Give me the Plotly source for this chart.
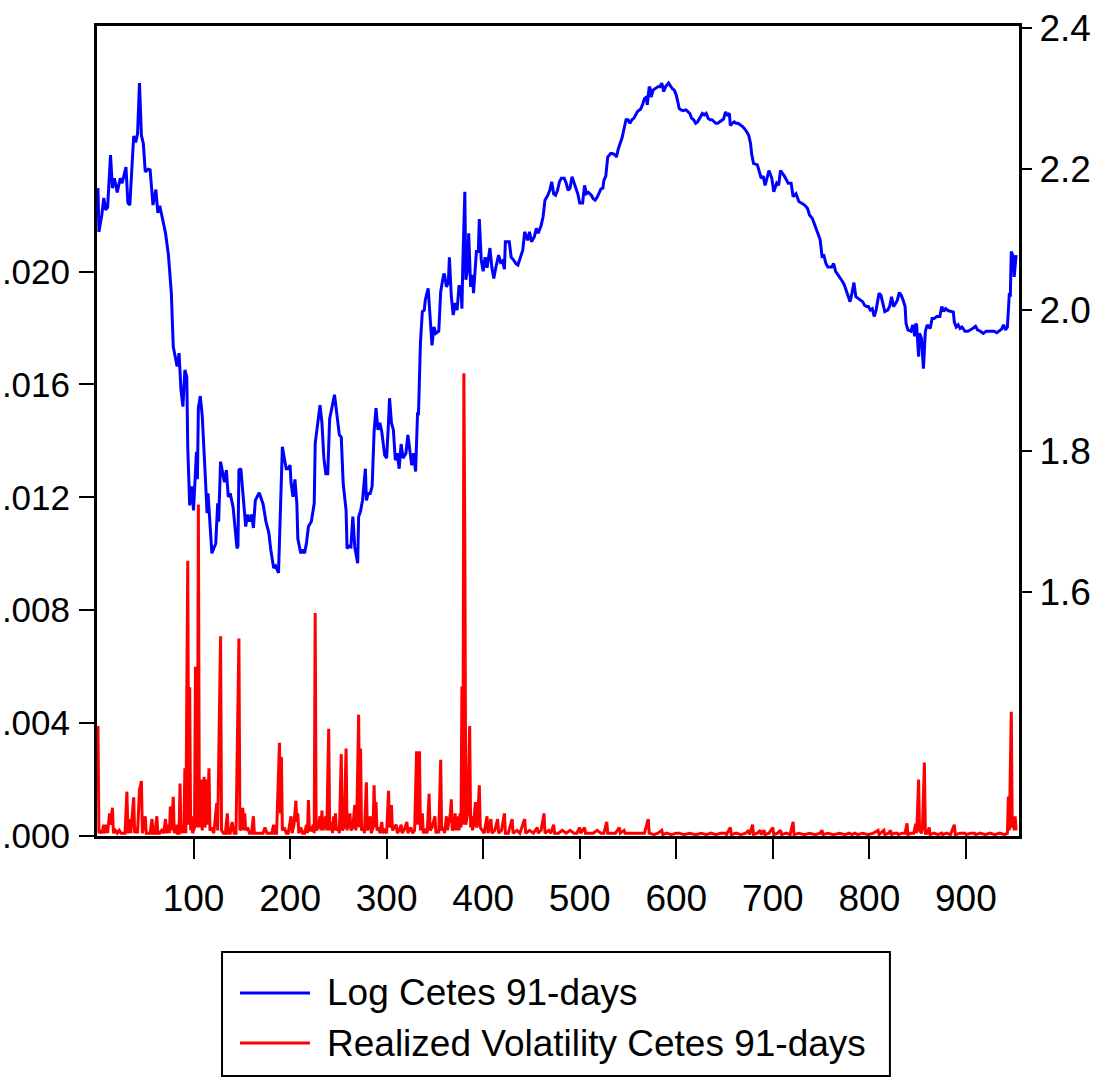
import plotly.graph_objects as go

# Log of the 91-day Cetes rate (observation number, value) -- right axis
log_cetes = [
    (1, 2.173), (2, 2.111), (5, 2.135), (7, 2.159), (9, 2.142), (11, 2.146), (14, 2.220),
    (16, 2.173), (18, 2.187), (21, 2.167), (24, 2.187), (26, 2.180), (28, 2.191), (30, 2.203),
    (32, 2.152), (34, 2.149), (38, 2.247), (40, 2.238), (42, 2.250), (44, 2.322), (46, 2.248),
    (48, 2.236), (50, 2.196), (53, 2.200), (55, 2.199), (58, 2.149), (61, 2.171), (63, 2.138),
    (65, 2.148), (68, 2.130), (71, 2.109), (74, 2.078), (77, 2.024), (79, 1.948), (83, 1.920),
    (85, 1.939), (87, 1.887), (89, 1.863), (91, 1.915), (93, 1.905), (94, 1.806), (96, 1.723),
    (98, 1.750), (100, 1.716), (103, 1.799), (104, 1.760), (105, 1.861), (107, 1.878),
    (109, 1.850), (112, 1.769), (114, 1.712), (115, 1.740), (117, 1.693), (119, 1.655),
    (123, 1.669), (125, 1.726), (126, 1.700), (128, 1.785), (132, 1.756), (134, 1.773),
    (136, 1.735), (138, 1.740), (141, 1.720), (143, 1.688), (145, 1.662), (146, 1.665),
    (147, 1.773), (149, 1.775), (152, 1.721), (154, 1.693), (156, 1.710), (158, 1.700),
    (160, 1.710), (162, 1.691), (164, 1.730), (168, 1.741), (172, 1.725), (175, 1.700),
    (178, 1.684), (180, 1.660), (183, 1.634), (185, 1.637), (188, 1.627), (190, 1.707),
    (192, 1.806), (194, 1.790), (196, 1.775), (198, 1.775), (200, 1.780), (201, 1.755),
    (203, 1.735), (205, 1.760), (207, 1.726), (208, 1.676), (211, 1.655), (213, 1.660),
    (215, 1.655), (217, 1.670), (219, 1.693), (222, 1.700), (225, 1.726), (226, 1.811),
    (228, 1.830), (231, 1.865), (233, 1.840), (235, 1.790), (237, 1.768), (239, 1.768),
    (241, 1.846), (243, 1.860), (246, 1.880), (249, 1.846), (251, 1.823), (253, 1.820),
    (255, 1.754), (258, 1.716), (259, 1.662), (261, 1.665), (263, 1.664), (265, 1.707),
    (267, 1.664), (270, 1.641), (271, 1.707), (273, 1.715), (275, 1.730), (278, 1.775),
    (279, 1.730), (281, 1.740), (283, 1.740), (285, 1.750), (287, 1.827), (289, 1.861),
    (291, 1.830), (293, 1.840), (295, 1.827), (298, 1.794), (300, 1.790), (302, 1.842),
    (303, 1.875), (305, 1.840), (307, 1.830), (309, 1.787), (311, 1.797), (313, 1.775),
    (315, 1.810), (317, 1.790), (320, 1.797), (322, 1.823), (324, 1.800), (326, 1.780),
    (328, 1.797), (330, 1.771), (332, 1.853), (333, 1.853), (335, 1.953), (337, 1.998),
    (339, 2.000), (340, 2.014), (343, 2.031), (344, 2.010), (347, 1.950), (349, 1.976),
    (351, 1.967), (354, 1.970), (356, 2.026), (359, 2.050), (360, 2.050), (362, 2.033),
    (364, 2.040), (365, 2.075), (367, 2.019), (369, 1.993), (371, 2.010), (373, 2.000),
    (375, 2.035), (377, 2.030), (378, 2.002), (379, 2.070), (381, 2.168), (382, 2.043),
    (384, 2.060), (385, 2.109), (387, 2.033), (389, 2.050), (390, 2.024), (393, 2.083),
    (395, 2.083), (396, 2.129), (398, 2.071), (400, 2.055), (402, 2.075), (404, 2.060),
    (407, 2.088), (409, 2.060), (411, 2.045), (413, 2.060), (416, 2.078), (418, 2.068),
    (420, 2.070), (422, 2.058), (423, 2.097), (427, 2.097), (429, 2.075), (431, 2.072),
    (434, 2.066), (436, 2.064), (439, 2.078), (441, 2.085), (443, 2.111), (446, 2.099),
    (448, 2.111), (450, 2.097), (453, 2.104), (455, 2.116), (457, 2.109), (460, 2.120),
    (462, 2.132), (464, 2.156), (467, 2.163), (469, 2.170), (471, 2.182), (473, 2.165),
    (475, 2.163), (477, 2.170), (479, 2.182), (481, 2.187), (484, 2.187), (486, 2.180),
    (488, 2.170), (490, 2.173), (492, 2.189), (494, 2.180), (496, 2.173), (498, 2.165),
    (500, 2.152), (503, 2.152), (505, 2.177), (507, 2.165), (509, 2.167), (512, 2.163),
    (514, 2.158), (516, 2.156), (518, 2.160), (520, 2.165), (522, 2.172), (524, 2.173),
    (525, 2.184), (527, 2.190), (528, 2.208), (529, 2.217), (532, 2.222), (534, 2.222),
    (537, 2.220), (538, 2.217), (540, 2.229), (542, 2.236), (544, 2.245), (546, 2.258),
    (548, 2.270), (550, 2.270), (552, 2.265), (554, 2.270), (556, 2.272), (558, 2.277),
    (560, 2.282), (563, 2.285), (565, 2.291), (567, 2.300), (569, 2.302), (570, 2.291),
    (572, 2.317), (573, 2.314), (574, 2.302), (576, 2.312), (578, 2.314), (581, 2.317),
    (583, 2.317), (585, 2.322), (587, 2.310), (589, 2.317), (592, 2.322), (594, 2.317),
    (596, 2.314), (598, 2.312), (600, 2.305), (602, 2.293), (603, 2.286), (605, 2.284),
    (607, 2.283), (610, 2.284), (612, 2.282), (614, 2.279), (616, 2.272), (618, 2.270),
    (620, 2.265), (622, 2.267), (625, 2.274), (627, 2.279), (629, 2.277), (631, 2.279),
    (633, 2.272), (635, 2.270), (637, 2.270), (639, 2.267), (641, 2.265), (643, 2.265),
    (645, 2.267), (647, 2.270), (649, 2.271), (651, 2.281), (653, 2.277), (655, 2.279),
    (656, 2.262), (658, 2.265), (660, 2.267), (662, 2.265), (664, 2.265), (667, 2.262),
    (669, 2.260), (672, 2.255), (675, 2.248), (677, 2.236), (678, 2.222), (680, 2.208),
    (684, 2.206), (688, 2.187), (690, 2.190), (692, 2.177), (696, 2.198), (699, 2.187),
    (701, 2.168), (704, 2.180), (706, 2.177), (708, 2.198), (712, 2.190), (716, 2.180),
    (719, 2.180), (721, 2.161), (724, 2.165), (727, 2.154), (730, 2.151), (733, 2.149),
    (736, 2.144), (738, 2.135), (741, 2.130), (744, 2.118), (747, 2.109), (749, 2.100),
    (751, 2.076), (753, 2.077), (755, 2.066), (757, 2.061), (761, 2.061), (763, 2.066),
    (765, 2.055), (767, 2.051), (769, 2.048), (772, 2.041), (774, 2.036), (776, 2.028),
    (778, 2.021), (780, 2.012), (782, 2.024), (784, 2.039), (786, 2.019), (788, 2.017),
    (790, 2.014), (793, 2.012), (795, 2.007), (797, 2.005), (799, 2.005), (801, 2.000),
    (803, 2.002), (805, 1.991), (807, 2.000), (810, 2.024), (812, 2.021), (814, 2.009),
    (816, 1.998), (819, 2.000), (821, 2.005), (823, 2.019), (825, 2.005), (827, 2.009),
    (829, 2.014), (831, 2.025), (833, 2.021), (835, 2.014), (837, 2.005), (838, 1.981),
    (840, 1.972), (843, 1.970), (845, 1.979), (847, 1.963), (848, 1.981), (849, 1.979),
    (851, 1.934), (852, 1.967), (854, 1.960), (856, 1.917), (858, 1.970), (860, 1.979),
    (863, 1.974), (865, 1.988), (867, 1.988), (870, 1.991), (873, 1.991), (875, 2.005),
    (877, 1.998), (879, 2.002), (882, 1.999), (885, 1.998), (887, 1.997), (888, 1.983),
    (890, 1.976), (892, 1.979), (894, 1.974), (896, 1.976), (899, 1.970), (902, 1.970),
    (905, 1.972), (907, 1.974), (910, 1.977), (912, 1.972), (915, 1.970), (918, 1.967),
    (921, 1.970), (923, 1.970), (926, 1.971), (929, 1.970), (932, 1.968), (934, 1.970),
    (937, 1.973), (939, 1.979), (941, 1.972), (943, 1.976), (945, 2.024), (946, 2.019),
    (947, 2.083), (949, 2.076), (950, 2.047), (952, 2.078),
]

# Realized volatility of the 91-day Cetes rate (observation number, value) -- left axis
realized_vol = [
    (1, 0.0039), (2, 0.0001), (3, 0.0002), (5, 0.0001), (7, 0.0004), (8, 0.0001), (10, 0.0004),
    (11, 0.0001), (13, 0.0008), (14, 0.0004), (16, 0.0010), (17, 0.0001), (19, 0.0002),
    (21, 0.0001), (23, 0.0002), (25, 0.0001), (29, 0.0001), (31, 0.00157), (32, 0.0001),
    (34, 0.0006), (35, 0.0001), (38, 0.00137), (39, 0.0001), (40, 0.0003), (42, 0.0001),
    (44, 0.00163), (46, 0.00195), (47, 0.0001), (48, 0.0003), (50, 0.0007), (51, 0.0001),
    (53, 0.0001), (55, 0.0001), (57, 0.0006), (58, 0.0001), (60, 0.0001), (62, 0.0007),
    (63, 0.0001), (65, 0.0001), (67, 0.0002), (69, 0.0001), (71, 0.0006), (72, 0.0001),
    (74, 0.0004), (75, 0.0001), (76, 0.00104), (77, 0.0002), (79, 0.00139), (80, 0.0001),
    (82, 0.0004), (83, 0.0001), (85, 0.0001), (86, 0.00186), (87, 0.0001), (89, 0.0004),
    (90, 0.0001), (91, 0.0024), (92, 0.0001), (94, 0.00975), (95, 0.0004), (96, 0.00527),
    (97, 0.0002), (98, 0.0007), (99, 0.0001), (101, 0.0003), (102, 0.0060), (103, 0.0057),
    (104, 0.0003), (105, 0.01175), (106, 0.0003), (108, 0.0020), (109, 0.0002), (110, 0.0016),
    (111, 0.0021), (112, 0.0003), (113, 0.0020), (114, 0.0004), (116, 0.0024), (117, 0.0002),
    (119, 0.0003), (121, 0.0001), (124, 0.00116), (125, 0.0002), (128, 0.00708), (129, 0.0002),
    (131, 0.0001), (133, 0.0001), (135, 0.0008), (136, 0.0001), (138, 0.0001), (140, 0.0005),
    (142, 0.0001), (144, 0.0001), (147, 0.0070), (148, 0.0002), (150, 0.0003), (151, 0.0010),
    (152, 0.0002), (153, 0.0008), (154, 0.0002), (156, 0.0003), (158, 0.0001), (160, 0.0001),
    (162, 0.0007), (163, 0.0001), (166, 0.0001), (169, 0.0001), (172, 0.0001), (174, 0.0003),
    (176, 0.0001), (179, 0.0001), (181, 0.0001), (183, 0.0004), (184, 0.0001), (186, 0.0001),
    (189, 0.0033), (190, 0.0008), (191, 0.0028), (192, 0.0002), (194, 0.0003), (196, 0.0001),
    (198, 0.0001), (201, 0.0007), (202, 0.0001), (204, 0.0004), (206, 0.00125), (207, 0.0005),
    (208, 0.0008), (209, 0.0001), (211, 0.0003), (213, 0.0001), (215, 0.0001), (217, 0.0004),
    (218, 0.0001), (219, 0.00127), (220, 0.0002), (222, 0.0002), (224, 0.0004), (225, 0.0001),
    (226, 0.0079), (227, 0.0002), (229, 0.0003), (231, 0.0007), (232, 0.0002), (233, 0.0009),
    (234, 0.0002), (235, 0.0003), (237, 0.0007), (238, 0.0002), (240, 0.0038), (241, 0.0002),
    (243, 0.0005), (244, 0.0001), (245, 0.0007), (246, 0.0002), (247, 0.0008), (248, 0.0002),
    (250, 0.0003), (251, 0.0001), (253, 0.0029), (254, 0.0002), (256, 0.0003), (258, 0.0031),
    (259, 0.0002), (260, 0.0004), (262, 0.0008), (263, 0.0002), (265, 0.0003), (267, 0.0011),
    (268, 0.0002), (269, 0.0004), (271, 0.0043), (272, 0.0003), (273, 0.0031), (274, 0.0002),
    (276, 0.0003), (277, 0.0001), (279, 0.0019), (280, 0.0002), (281, 0.0003), (283, 0.0007),
    (284, 0.0001), (286, 0.0003), (287, 0.0018), (288, 0.0003), (289, 0.0012), (290, 0.0002),
    (292, 0.0003), (293, 0.0001), (295, 0.0005), (296, 0.0001), (298, 0.0002), (300, 0.0001),
    (302, 0.0016), (303, 0.0003), (305, 0.0011), (306, 0.0002), (308, 0.0003), (310, 0.0004),
    (311, 0.0001), (313, 0.0002), (315, 0.0004), (316, 0.0001), (318, 0.0002), (321, 0.0005),
    (322, 0.0001), (325, 0.0003), (327, 0.0001), (329, 0.0002), (331, 0.0030), (332, 0.0004),
    (334, 0.0030), (335, 0.0002), (337, 0.0008), (338, 0.0001), (340, 0.0002), (342, 0.0001),
    (344, 0.0015), (345, 0.0002), (347, 0.0003), (350, 0.0007), (351, 0.0001), (353, 0.0002),
    (354, 0.0001), (356, 0.0027), (357, 0.0002), (359, 0.0003), (360, 0.0001), (362, 0.0007),
    (363, 0.0002), (364, 0.0004), (366, 0.0008), (367, 0.0013), (368, 0.0002), (370, 0.0003),
    (371, 0.0008), (372, 0.0002), (374, 0.0007), (375, 0.0002), (376, 0.0008), (377, 0.0003),
    (378, 0.0053), (379, 0.0004), (380, 0.0164), (381, 0.0105), (382, 0.0004), (384, 0.0008),
    (386, 0.0039), (387, 0.0003), (388, 0.0007), (389, 0.0002), (390, 0.0004), (392, 0.0012),
    (393, 0.0003), (394, 0.0004), (396, 0.0018), (397, 0.0003), (399, 0.0002), (401, 0.0001),
    (404, 0.0007), (405, 0.0001), (408, 0.0006), (409, 0.0001), (412, 0.0002), (415, 0.0006),
    (416, 0.0001), (419, 0.0002), (422, 0.0008), (423, 0.0001), (426, 0.0001), (430, 0.0006),
    (431, 0.0001), (435, 0.0002), (438, 0.0001), (443, 0.0006), (444, 0.0001), (448, 0.0002),
    (452, 0.0001), (456, 0.0003), (457, 0.0001), (460, 0.0002), (463, 0.0008), (464, 0.0001),
    (468, 0.0002), (470, 0.0001), (473, 0.0004), (474, 0.0001), (478, 0.0001), (482, 0.0002),
    (486, 0.0001), (490, 0.0002), (494, 0.0001), (497, 0.0001), (500, 0.0003), (501, 0.0001),
    (505, 0.0003), (506, 0.0001), (510, 0.0001), (514, 0.0001), (518, 0.0002), (522, 0.0001),
    (525, 0.0001), (528, 0.0005), (529, 0.0001), (533, 0.0001), (537, 0.0001), (541, 0.0003),
    (542, 0.0001), (546, 0.0002), (547, 0.0001), (552, 0.0001), (557, 0.0001), (562, 0.0001),
    (567, 0.0001), (571, 0.0006), (572, 0.0001), (577, 0.00005), (581, 0.0001), (585, 0.0002),
    (586, 0.00005), (590, 0.0001), (595, 0.00005), (600, 0.0001), (603, 0.0001), (608, 0.00005),
    (614, 0.0001), (620, 0.00005), (626, 0.0001), (631, 0.00005), (636, 0.0001), (641, 0.00005),
    (646, 0.0001), (651, 0.0001), (652, 0.00005), (656, 0.0003), (657, 0.00005), (662, 0.0001),
    (667, 0.00005), (672, 0.0001), (675, 0.0002), (676, 0.00005), (679, 0.0004), (680, 0.00005),
    (684, 0.0001), (687, 0.0002), (688, 0.00005), (691, 0.0002), (692, 0.00005), (696, 0.0001),
    (700, 0.0003), (701, 0.00005), (705, 0.0001), (708, 0.0002), (709, 0.00005), (714, 0.0001),
    (718, 0.00005), (721, 0.0005), (722, 0.00005), (727, 0.0001), (733, 0.00005), (738, 0.0001),
    (744, 0.00005), (749, 0.0001), (751, 0.0002), (752, 0.00005), (757, 0.0001), (763, 0.00005),
    (769, 0.0001), (775, 0.00005), (779, 0.0001), (782, 0.00005), (785, 0.0001), (788, 0.00005),
    (793, 0.0001), (799, 0.00005), (804, 0.0001), (809, 0.0002), (810, 0.00005), (815, 0.0002),
    (816, 0.00005), (820, 0.0001), (822, 0.0002), (823, 0.00005), (826, 0.0001), (829, 0.0001),
    (830, 0.00005), (834, 0.0001), (837, 0.0001), (839, 0.00045), (840, 0.00005), (843, 0.0001),
    (846, 0.0001), (848, 0.00043), (849, 0.0001), (851, 0.0020), (852, 0.0002), (854, 0.0001),
    (855, 0.0003), (857, 0.0026), (858, 0.0001), (860, 0.0001), (862, 0.0003), (863, 0.00005),
    (867, 0.0001), (871, 0.00005), (875, 0.0001), (876, 0.00005), (880, 0.0001), (884, 0.00005),
    (888, 0.0004), (889, 0.00005), (894, 0.0001), (899, 0.0001), (900, 0.00005), (905, 0.0001),
    (909, 0.0001), (910, 0.00005), (915, 0.0001), (920, 0.00005), (925, 0.0001), (930, 0.00005),
    (935, 0.0001), (940, 0.00005), (943, 0.0001), (944, 0.0014), (945, 0.0002), (947, 0.0044),
    (948, 0.0003), (949, 0.0007), (950, 0.0002), (951, 0.0007), (952, 0.0002),
]

x_ticks = [100, 200, 300, 400, 500, 600, 700, 800, 900]
left_ticks = [0.000, 0.004, 0.008, 0.012, 0.016, 0.020]
left_labels = [".000", ".004", ".008", ".012", ".016", ".020"]
right_ticks = [1.6, 1.8, 2.0, 2.2, 2.4]
right_labels = ["1.6", "1.8", "2.0", "2.2", "2.4"]

series_names = ["Log Cetes 91-days", "Realized Volatility Cetes 91-days"]
series_colors = ["#0000FF", "#FF0000"]

FONT = "Liberation Sans, Arial, sans-serif"
FSIZE = 37

fig = go.Figure()
fig.add_trace(go.Scatter(
    x=[p[0] for p in realized_vol], y=[p[1] for p in realized_vol],
    mode="lines", line=dict(color=series_colors[1], width=3),
    name=series_names[1], yaxis="y", showlegend=False,
))
fig.add_trace(go.Scatter(
    x=[p[0] for p in log_cetes], y=[p[1] for p in log_cetes],
    mode="lines", line=dict(color=series_colors[0], width=3),
    name=series_names[0], yaxis="y2", showlegend=False,
))

axis_common = dict(
    showgrid=False, zeroline=False, showline=True, linecolor="black", linewidth=3,
    ticks="outside", tickcolor="black", tickwidth=2, automargin=False,
)
tick_font = dict(family=FONT, size=FSIZE, color="black")

fig.update_layout(
    width=1096, height=1078,
    margin=dict(l=97, r=77, t=26, b=242, pad=0),
    paper_bgcolor="white", plot_bgcolor="white",
    xaxis=dict(range=[0, 955], tickvals=x_ticks, ticklen=20, mirror=True,
               ticklabelstandoff=8, tickfont=tick_font, **axis_common),
    yaxis=dict(range=[0, 0.0287], tickvals=left_ticks, ticktext=left_labels,
               ticklen=15, ticklabelstandoff=2,
               tickfont=dict(family=FONT, size=35, color="black"), **axis_common),
    yaxis2=dict(range=[1.254, 2.403], tickvals=right_ticks, ticktext=right_labels,
                overlaying="y", side="right", ticklen=10, tickfont=tick_font, **axis_common),
)

# Legend box below the plot, drawn in paper coordinates
lx0, lx1, ly0, ly1 = 0.1356, 0.860, -0.1432, -0.2963
fig.add_shape(type="rect", xref="paper", yref="paper", x0=lx0, x1=lx1, y0=ly1, y1=ly0,
              line=dict(color="black", width=2), fillcolor="white")
for name, color, yy in zip(series_names, series_colors, [-0.1938, -0.2556]):
    fig.add_shape(type="line", xref="paper", yref="paper", x0=0.1551, x1=0.2310, y0=yy, y1=yy,
                  line=dict(color=color, width=3))
    fig.add_annotation(xref="paper", yref="paper", x=0.2473, y=yy, text=name, showarrow=False,
                       xanchor="left", yanchor="middle",
                       font=dict(family=FONT, size=FSIZE, color="black"))

fig.write_html("out.html")
